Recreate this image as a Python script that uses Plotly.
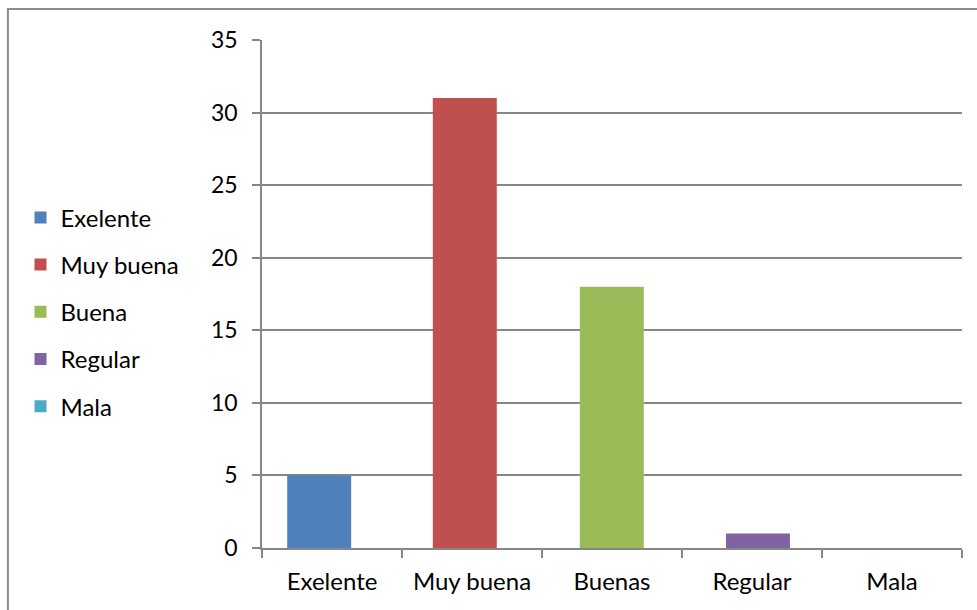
import plotly.graph_objects as go

# Survey answers and their counts
categories = ["Exelente", "Muy buena", "Buenas", "Regular", "Mala"]
legend_names = ["Exelente", "Muy buena", "Buena", "Regular", "Mala"]
counts = [5, 31, 18, 1, 0]
colors = ["#4F81BD", "#C0504D", "#9BBB59", "#8064A2", "#4BACC6"]
bar_offsets = [-0.32, -0.28, -0.23, -0.186, -0.14]

FONT = "Lato"
FS = 24
GRID = "#878787"

fig = go.Figure()
for cat, name, val, col, off in zip(categories, legend_names, counts, colors, bar_offsets):
    fig.add_trace(go.Bar(
        x=[cat], y=[val], name=name,
        marker=dict(color=col, line=dict(width=0)),
        width=0.457, offset=off,
        legendgroup=name,
    ))

fig.update_layout(
    width=977, height=610,
    margin=dict(l=262, r=15, t=40, b=62),
    paper_bgcolor="white", plot_bgcolor="white",
    font=dict(family=FONT, size=FS, color="#000000"),
    barmode="overlay",
    showlegend=True,
    legend=dict(
        x=-0.345, xanchor="left", y=0.465, yanchor="middle",
        traceorder="grouped", tracegroupgap=13,
        font=dict(family=FONT, size=FS, color="#000000"),
        bgcolor="rgba(0,0,0,0)",
    ),
    xaxis=dict(
        type="category", categoryorder="array", categoryarray=categories,
        showgrid=False, showline=True, linecolor=GRID, linewidth=1.5,
        ticks="outside", tickson="boundaries", ticklen=8, tickcolor=GRID, tickwidth=1.5,
        ticklabelstandoff=11,
        tickfont=dict(family=FONT, size=FS, color="#000000"),
    ),
    yaxis=dict(
        range=[0, 35], dtick=5, tick0=0,
        showgrid=True, gridcolor=GRID, gridwidth=1.5,
        showline=True, linecolor=GRID, linewidth=1.5,
        ticks="outside", ticklen=8, tickcolor=GRID, tickwidth=1.5,
        ticklabelstandoff=10,
        zeroline=False,
        tickfont=dict(family=FONT, size=23, color="#000000"),
    ),
    shapes=[dict(
        type="rect", xref="paper", yref="paper",
        x0=-0.363, x1=1.2, y0=-0.3, y1=1.061,
        line=dict(color="#8C8C8C", width=2), fillcolor="rgba(0,0,0,0)",
        layer="below",
    )],
)

fig.write_html("out.html")
